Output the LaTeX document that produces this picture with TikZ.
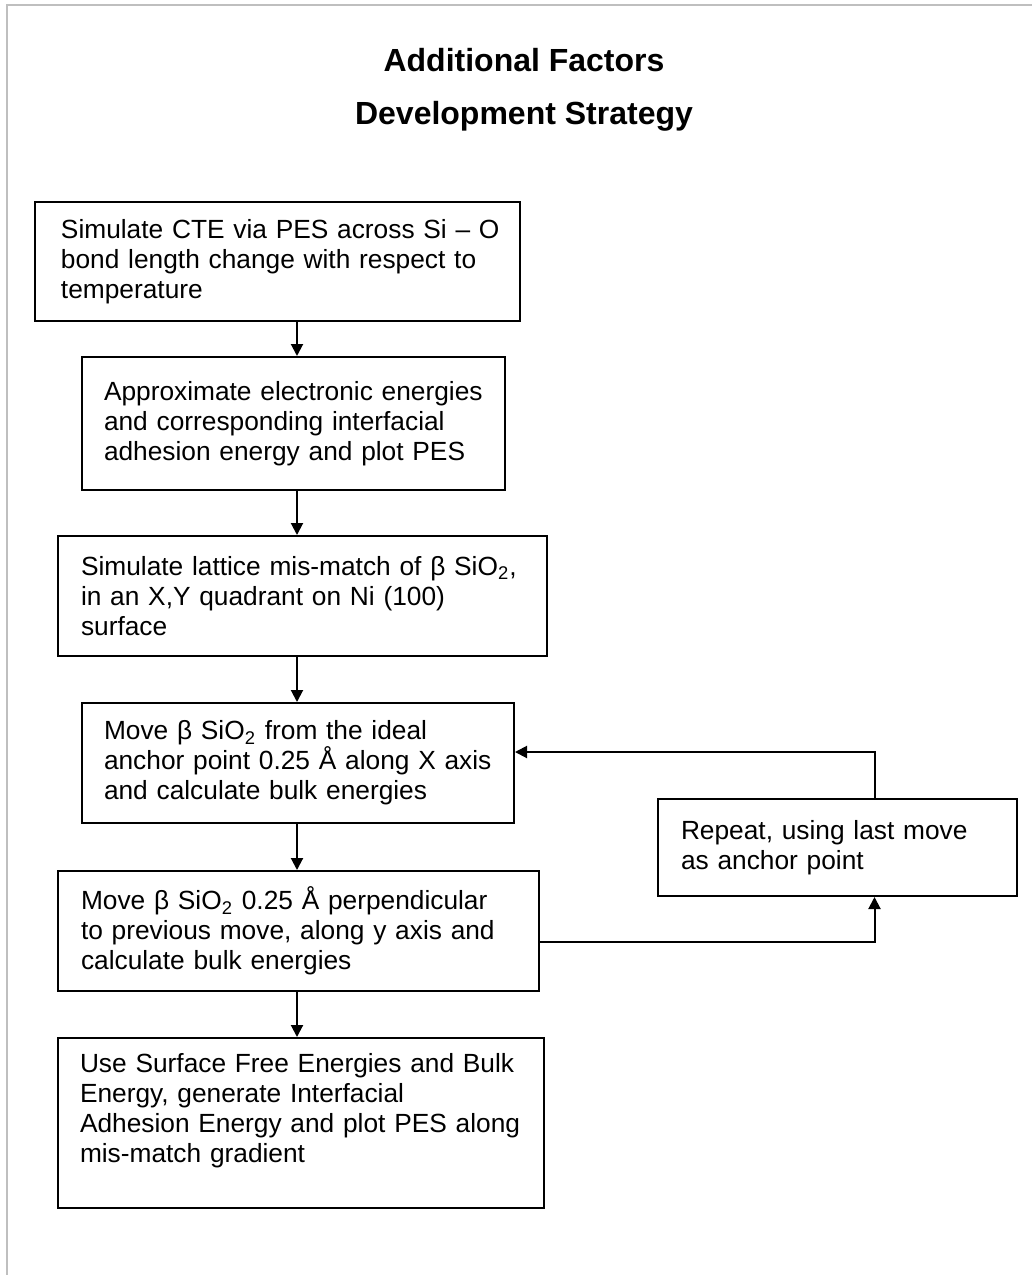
\documentclass[tikz,border=0pt]{standalone}
\usepackage{fontspec}
\setmainfont{Liberation Sans}
\usetikzlibrary{arrows.meta}
\tikzset{
    stepbox/.style = {draw, line width = 1pt, anchor = north west, align = left, inner ysep = 0pt, font = \fontsize{13.15pt}{15pt}\selectfont},
    flow/.style = {line width = 1pt, -{Triangle[length = 6pt, width = 6pt]}},
    pageedge/.style = {line width = 1.2pt, color = black!25}
}
\begin{document}
\begin{tikzpicture}[x = 0.5pt, y = -0.5pt]
        \useasboundingbox (0,0) rectangle (1032,1275);
        \draw[pageedge] (1032,5) -- (7,5) -- (7,1275);
        \node[font = \fontsize{16pt}{26.5pt}\selectfont\bfseries, align = center] (title) at (524,90) {Additional Factors\\Development Strategy};
        \node[stepbox, inner xsep = 13pt, text width = 216.5pt, minimum height = 59.5pt] (b1) at (34,201)
            {\mbox{Simulate CTE via PES across Si -- O}\\bond length change with respect to\\temperature};
        \node[stepbox, inner xsep = 11pt, text width = 189.5pt, minimum height = 66.5pt] (b2) at (81,356)
            {Approximate electronic energies\\and corresponding interfacial\\adhesion energy and plot PES};
        \node[stepbox, inner xsep = 11.5pt, text width = 221.5pt, minimum height = 60pt] (b3) at (57,535)
            {Simulate lattice mis-match of β SiO\textsubscript{2},\\in an X,Y quadrant on Ni (100)\\surface};
        \node[stepbox, inner xsep = 11pt, text width = 194pt, minimum height = 60pt] (b4) at (81,702)
            {Move β SiO\textsubscript{2} from the ideal\\anchor point 0.25 Å along X axis\\and calculate bulk energies};
        \node[stepbox, inner xsep = 11.5pt, text width = 217.5pt, minimum height = 60pt] (b5) at (57,870)
            {Move β SiO\textsubscript{2} 0.25 Å perpendicular\\to previous move, along y axis and\\calculate bulk energies};
        \node[stepbox, inner xsep = 11pt, text width = 221pt, minimum height = 85pt] (b6) at (57,1037)
            {Use Surface Free Energies and Bulk\\Energy, generate Interfacial\\Adhesion Energy and plot PES along\\mis-match gradient\\\mbox{}};
        \node[stepbox, inner xsep = 11.5pt, text width = 156.5pt, minimum height = 48.5pt] (rep) at (657,798)
            {Repeat, using last move\\as anchor point};
        \coordinate (spine) at (297,0);
        \foreach \a/\b in {b1/b2, b2/b3, b3/b4, b4/b5, b5/b6}
            \draw[flow] (\a.south -| spine) -- (\b.north -| spine);
        \draw[flow] ([yshift = -5.5pt]b5.east) -| ([xshift = 18.5pt]rep.south);
        \draw[flow] ([xshift = 18.5pt]rep.north) |- ([yshift = 5.5pt]b4.east);
    \end{tikzpicture}
\end{document}
